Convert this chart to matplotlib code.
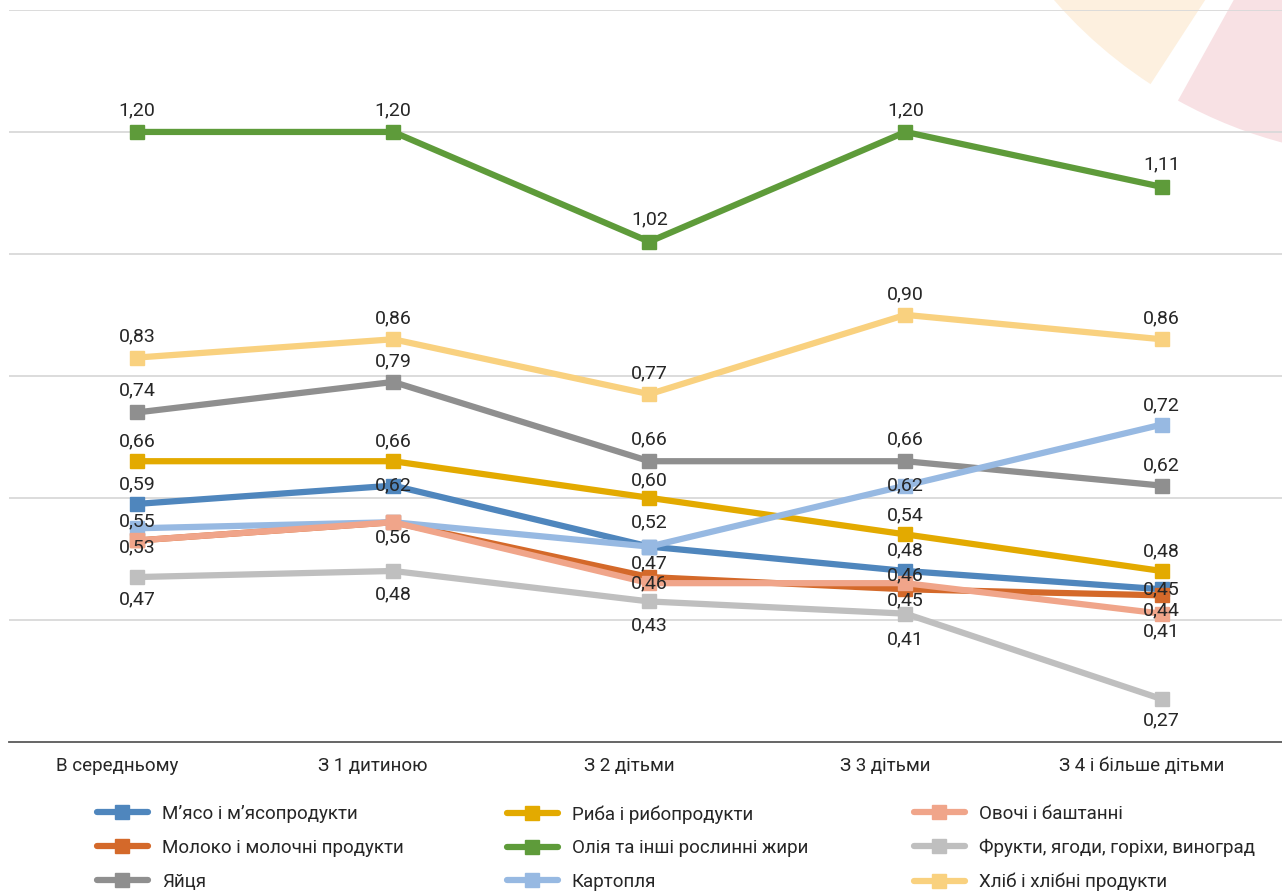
import matplotlib
matplotlib.use("Agg")
import matplotlib.pyplot as plt
import matplotlib.transforms as mtransforms
from matplotlib.lines import Line2D
from matplotlib.patches import Wedge

plt.rcParams["font.family"] = ["Roboto", "DejaVu Sans"]

categories = ["В середньому", "З 1 дитиною", "З 2 дітьми", "З 3 дітьми", "З 4 і більше дітьми"]

series_names = [
    "М’ясо і м’ясопродукти",
    "Молоко і молочні продукти",
    "Яйця",
    "Риба і рибопродукти",
    "Олія та інші рослинні жири",
    "Картопля",
    "Овочі і баштанні",
    "Фрукти, ягоди, горіхи, виноград",
    "Хліб і хлібні продукти",
]

meat = [0.59, 0.62, 0.52, 0.48, 0.45]
milk = [0.53, 0.56, 0.47, 0.45, 0.44]
eggs = [0.74, 0.79, 0.66, 0.66, 0.62]
fish = [0.66, 0.66, 0.60, 0.54, 0.48]
oil = [1.20, 1.20, 1.02, 1.20, 1.11]
potato = [0.55, 0.56, 0.52, 0.62, 0.72]
veg = [0.53, 0.56, 0.46, 0.46, 0.41]
fruit = [0.47, 0.48, 0.43, 0.41, 0.27]
bread = [0.83, 0.86, 0.77, 0.90, 0.86]

values = [meat, milk, eggs, fish, oil, potato, veg, fruit, bread]

colors = ["#4f86bd", "#d4692a", "#8f8f8f", "#e3aa00", "#5e9b3a",
          "#97b9e2", "#f0a58a", "#bfbfbf", "#f9d17f"]

# label offsets in pixels (positive = up), None = hidden (overlapping in original)
label_dy = [
    [20, 0, 24, 21, 0],
    [-7, None, 14, -11, -15],
    [22, 21, 22, 22, 20],
    [20, 20, 17, 19, 20],
    [22, 22, 22, 22, 22],
    [7, None, None, 0, 19],
    [None, -15, 0, 8, -18],
    [-22, -23, -24, -26, -21],
    [21, 21, 21, 21, 21],
]

W, H = 1282, 891
fig = plt.figure(figsize=(W / 100, H / 100), dpi=100)

# decorative background wedges (top right)
bg = fig.add_axes([0, 0, 1, 1], zorder=-1)
bg.set_xlim(0, W)
bg.set_ylim(0, H)
bg.axis("off")
bg.add_patch(Wedge((1400, H + 300), 458, 195, 237, color="#fdf0df", lw=0))
bg.add_patch(Wedge((1400, H + 300), 458, 241, 300, color="#f8e1e4", lw=0))

ax_left = 9 / W
ax_bottom = (H - 741.7) / H
ax_top = (H - 10) / H
ax = fig.add_axes([ax_left, ax_bottom, 1 - ax_left, ax_top - ax_bottom])
ax.patch.set_alpha(0)

x = list(range(len(categories)))
for i, (name, vals, col) in enumerate(zip(series_names, values, colors)):
    ax.plot(x, vals, color=col, lw=4.5, marker="s", markersize=10,
            solid_capstyle="round", zorder=3 + i, label=name)
    for xi, v, dy in zip(x, vals, label_dy[i]):
        if dy is None:
            continue
        ax.annotate(f"{v:.2f}".replace(".", ","), (xi, v), xytext=(0, dy),
                    textcoords="offset pixels", ha="center", va="center",
                    fontsize=14, color="#262626", zorder=20)

ax.set_xlim(-0.5, 4.5 - 0.03)
ax.set_ylim(0.2, 1.4)
ax.set_yticks([0.4, 0.6, 0.8, 1.0, 1.2, 1.4])
ax.yaxis.grid(True, color="#d9d9d9", lw=1.3)
ax.set_axisbelow(True)
ax.tick_params(axis="y", left=False, labelleft=False)
ax.set_xticks(x)
ax.set_xticklabels(categories, fontsize=13.5, color="#262626")
ax.tick_params(axis="x", length=0, pad=11)
# category labels sit a little left of the points in the original
shift = mtransforms.ScaledTranslation(-0.2, 0, fig.dpi_scale_trans)
for lab in ax.get_xticklabels():
    lab.set_transform(lab.get_transform() + shift)
for s in ["top", "right", "left"]:
    ax.spines[s].set_visible(False)
ax.spines["bottom"].set_color("#595959")
ax.spines["bottom"].set_linewidth(1.3)

# legend: three columns of three entries
col_x = [97, 507, 914]
for c in range(3):
    handles = []
    labels = []
    for r in range(3):
        k = c * 3 + r
        handles.append(Line2D([], [], color=colors[k], lw=4.5, marker="s",
                              markersize=10, solid_capstyle="round"))
        labels.append(series_names[k])
    fig.legend(handles, labels, loc="upper left",
               bbox_to_anchor=(col_x[c] / W, (H - 805) / H),
               frameon=False, fontsize=13.5, handlelength=2.7,
               handletextpad=0.75, labelspacing=0.84, borderaxespad=0,
               borderpad=0, labelcolor="#262626")

fig.savefig("out.png", dpi=100)
